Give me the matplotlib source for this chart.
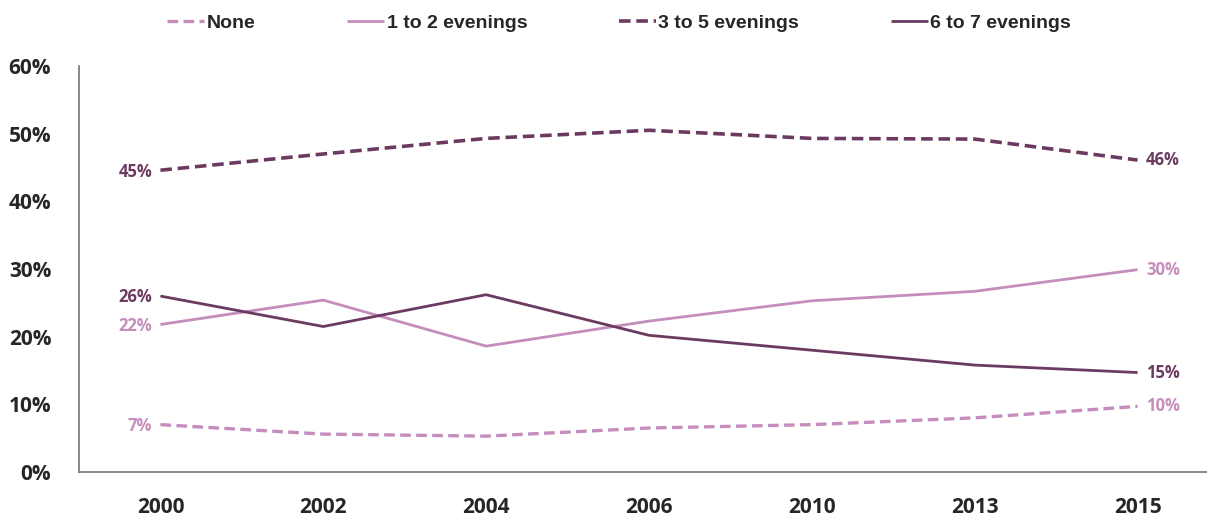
import matplotlib
matplotlib.use("Agg")
import matplotlib.pyplot as plt
from matplotlib.ticker import FuncFormatter

years = ["2000", "2002", "2004", "2006", "2010", "2013", "2015"]
none_vals = [7.0, 5.6, 5.3, 6.5, 7.0, 8.0, 9.7]
one_two = [21.8, 25.4, 18.6, 22.3, 25.3, 26.7, 29.9]
three_five = [44.6, 47.0, 49.3, 50.5, 49.3, 49.2, 46.1]
six_seven = [26.0, 21.5, 26.2, 20.2, 18.0, 15.8, 14.7]
labels = ["None", "1 to 2 evenings", "3 to 5 evenings", "6 to 7 evenings"]
start_labels = ["7%", "22%", "45%", "26%"]
end_labels = ["10%", "30%", "46%", "15%"]

light = "#c48dbb"
dark = "#6c3a60"
label_font = ["Open Sans", "DejaVu Sans"]

fig = plt.figure(figsize=(12.07, 5.16), dpi=100)
ax = fig.add_axes([79/1207, 1-472/516, (1219-79)/1207, (472-66)/516])

x = list(range(len(years)))
series = [none_vals, one_two, three_five, six_seven]
colors = [light, light, dark, dark]
styles = ["--", "-", "--", "-"]
widths = [2.4, 2.0, 2.6, 2.0]

lines = []
for s, c, ls, lw, lab in zip(series, colors, styles, widths, labels):
    ln, = ax.plot(x, s, color=c, linestyle=ls, linewidth=lw, label=lab,
                  solid_capstyle="butt", dash_capstyle="butt")
    if ls == "--":
        ln.set_dashes([3.2, 1.6])
    lines.append(ln)

for s, c, sl, el in zip(series, colors, start_labels, end_labels):
    ax.annotate(sl, (x[0], s[0]), xytext=(-6, -1), textcoords="offset points",
                ha="right", va="center", color=c, fontsize=12,
                fontweight="bold", family=label_font)
    ax.annotate(el, (x[-1], s[-1]), xytext=(6, 0), textcoords="offset points",
                ha="left", va="center", color=c, fontsize=12,
                fontweight="bold", family=label_font)

ax.set_xlim(-0.5, len(years) - 0.5)
ax.set_ylim(0, 60)
ax.set_yticks([0, 10, 20, 30, 40, 50, 60])
ax.yaxis.set_major_formatter(FuncFormatter(lambda v, p: f"{int(v)}%"))
ax.set_xticks(x)
ax.set_xticklabels(years)
ax.tick_params(axis="both", length=0, labelsize=15, labelcolor="#262626")
ax.tick_params(axis="y", pad=20)
ax.tick_params(axis="x", pad=18)
for t in ax.get_xticklabels() + ax.get_yticklabels():
    t.set_fontweight("bold")
    t.set_family(label_font)

for sp in ["top", "right"]:
    ax.spines[sp].set_visible(False)
for sp in ["left", "bottom"]:
    ax.spines[sp].set_color("#7f7f7f")
    ax.spines[sp].set_linewidth(1.3)

leg = fig.legend(handles=lines, labels=labels, loc="center",
                 bbox_to_anchor=(619/1207, 1-23/516), ncol=4, frameon=False,
                 handlelength=1.9, handletextpad=0.15, columnspacing=4.7,
                 prop={"family": ["Liberation Sans", "DejaVu Sans"],
                       "weight": "bold", "size": 14})
for t in leg.get_texts():
    t.set_color("#262626")

fig.savefig("out.png", dpi=100)
